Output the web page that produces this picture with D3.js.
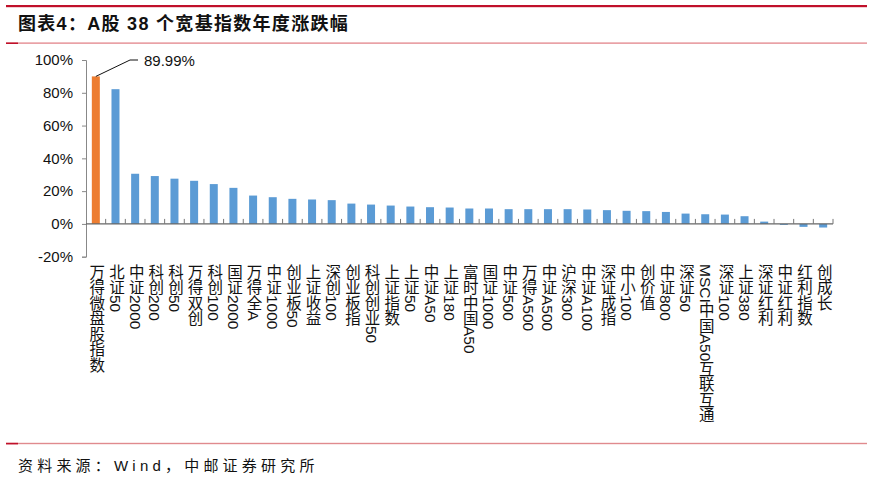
<!DOCTYPE html>
<html><head><meta charset="utf-8">
<script src="https://cdn.jsdelivr.net/npm/d3@7"></script>
<style>
body{margin:0;background:#fff;}
svg{display:block;}
</style></head>
<body>
<svg id="c" width="873" height="479"></svg>
<script>
const categories = ["万得微盘股指数","北证50","中证2000","科创200","科创50","万得双创","科创100","国证2000","万得全A","中证1000","创业板50","上证收益","深创100","创业板指","科创创业50","上证指数","上证50","中证A50","上证180","富时中国A50","国证1000","中证500","万得A500","中证A500","沪深300","中证A100","深证成指","中小100","创价值","中证800","深证50","MSCI中国A50互联互通","深证100","上证380","深证红利","中证红利","红利指数","创成长"];
const values = [89.99,82.2,30.6,29.2,27.6,26.3,24.3,22.0,17.3,16.3,15.3,14.9,14.5,12.4,11.8,11.2,10.6,10.2,10.0,9.4,9.4,9.0,9.0,9.0,9.0,8.8,8.4,8.0,7.8,7.3,6.3,5.9,5.7,4.7,1.4,-0.6,-1.8,-2.2];
const yTicks = [-20,0,20,40,60,80,100];
const title = "图表4：A股 38 个宽基指数年度涨跌幅";
const source = "资料来源：Wind，中邮证券研究所";
const highlightLabel = "89.99%";

const svg = d3.select("#c");
const latin = "'Liberation Sans', Arial, sans-serif";
const cjk = "'Liberation Sans','Noto Sans CJK SC', sans-serif";

// header lines
svg.append("rect").attr("x",6).attr("y",5).attr("width",861).attr("height",2.2).attr("fill","#c0102a");
svg.append("rect").attr("x",6).attr("y",42.5).attr("width",861).attr("height",1.2).attr("fill","#e07a80");
svg.append("rect").attr("x",6).attr("y",42.5).attr("width",12).attr("height",1.5).attr("fill","#c0102a");
svg.append("text").attr("x",18).attr("y",30).attr("font-family",cjk).attr("font-weight","bold")
  .attr("font-size",18).attr("letter-spacing",1.3).attr("fill","#111").text(title);

// footer
svg.append("rect").attr("x",6).attr("y",442.8).attr("width",861).attr("height",1.4).attr("fill","#e08a8e");
svg.append("rect").attr("x",6).attr("y",442.8).attr("width",12).attr("height",1.6).attr("fill","#c0102a");
svg.append("text").attr("x",18).attr("y",471).attr("font-family",cjk)
  .attr("font-size",15).attr("letter-spacing",4.2).attr("fill","#111").text(source);

const xb = d3.scaleBand().domain(categories).range([86,833]);
const y = d3.scaleLinear().domain([-20,100]).range([256.7,60]);

// y axis
const yAxis = d3.axisLeft(y).tickValues(yTicks).tickSize(4).tickFormat(d=>d+"%");
const ga = svg.append("g").attr("transform","translate(86,0)").call(yAxis);
ga.select(".domain").attr("stroke","#888");
ga.selectAll(".tick line").attr("stroke","#888");
ga.selectAll(".tick text").attr("font-family",latin).attr("font-size",15).attr("fill","#111").attr("x",-13);

// bars
svg.append("g").selectAll("rect").data(values).join("rect")
  .attr("x",(d,i)=>xb(categories[i])+xb.bandwidth()/2-4)
  .attr("width",8)
  .attr("y",d=>y(Math.max(0,d)))
  .attr("height",d=>Math.abs(y(d)-y(0)))
  .attr("fill",(d,i)=>i===0?"#ED7D31":"#5B9BD5");

// x axis at zero with upward ticks at band boundaries
svg.append("line").attr("x1",86).attr("x2",833).attr("y1",y(0)).attr("y2",y(0)).attr("stroke","#666").attr("stroke-width",1.2);
const bounds = categories.map(c=>xb(c)).concat([833]);
svg.append("g").selectAll("line").data(bounds.slice(1)).join("line")
  .attr("x1",d=>d).attr("x2",d=>d).attr("y1",y(0)).attr("y2",y(0)-5).attr("stroke","#777");

// category labels (vertical)
svg.append("g").selectAll("text").data(categories).join("text")
  .attr("x",d=>xb(d)+xb.bandwidth()/2)
  .attr("y",264)
  .style("writing-mode","vertical-rl")
  .attr("font-family",cjk).attr("font-size",15.5).attr("fill","#111")
  .text(d=>d);

// annotation
const ax = xb(categories[0])+xb.bandwidth()/2, ay = y(values[0]);
svg.append("path").attr("d",`M${ax},${ay} L130,${y(100)} L138,${y(100)}`).attr("fill","none").attr("stroke","#111").attr("stroke-width",1);
svg.append("text").attr("x",144).attr("y",y(100)+6).attr("font-family",latin).attr("font-size",15).attr("fill","#111").text(highlightLabel);
</script>
</body></html>
